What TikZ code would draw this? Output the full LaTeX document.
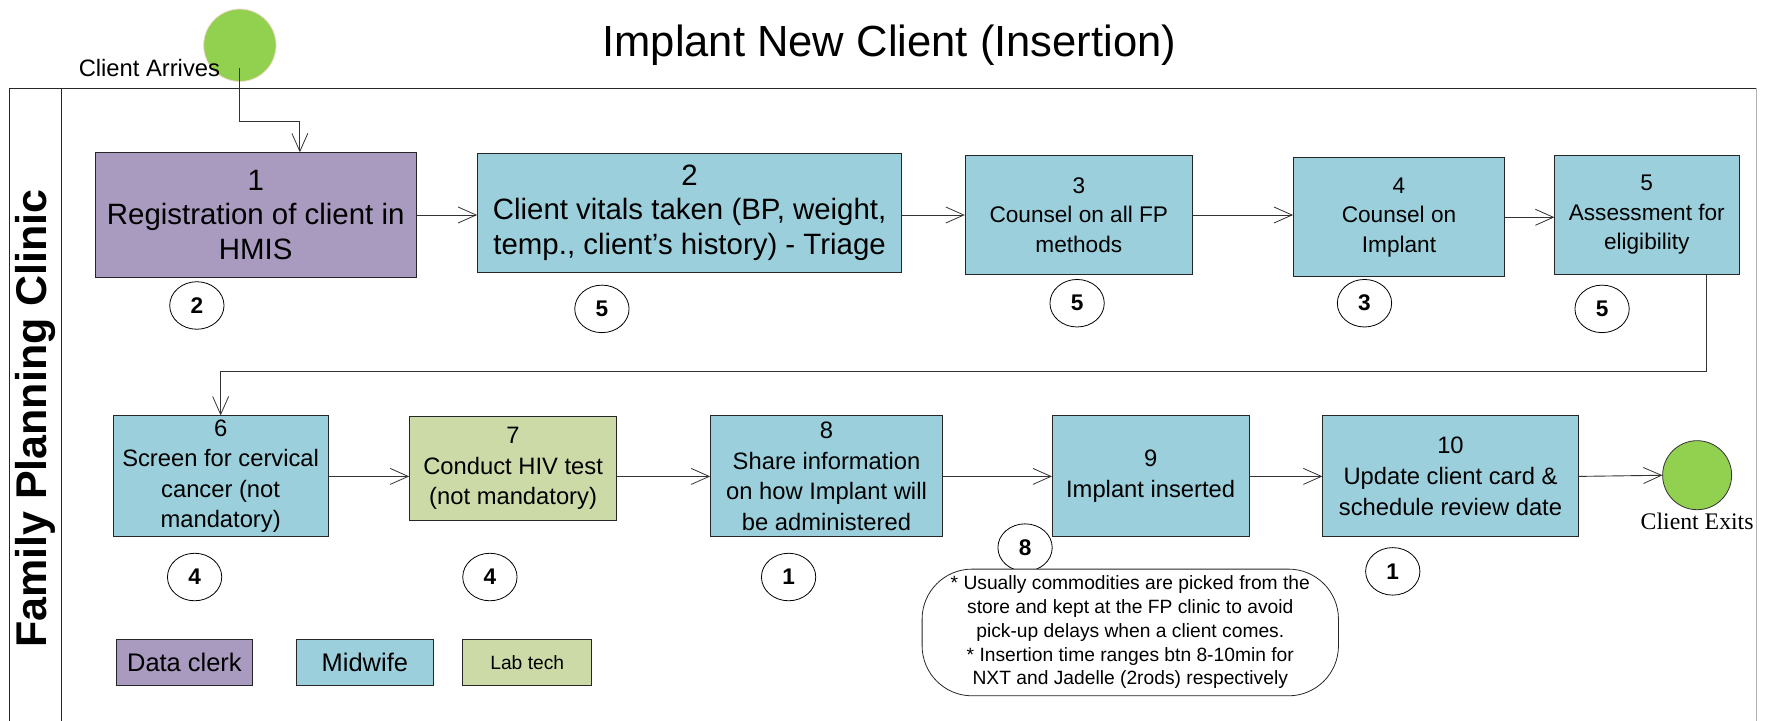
\documentclass[tikz,border=0pt]{standalone}
\usepackage{fontspec}
\setmainfont{Liberation Sans}
\newfontfamily\timesfont{Liberation Serif}
\usetikzlibrary{arrows.meta,shapes.geometric,calc}
\definecolor{clerk}{HTML}{A99AC0}
\definecolor{midwife}{HTML}{9BCFDC}
\definecolor{lab}{HTML}{CCDAA8}
\definecolor{startgreen}{HTML}{92D050}
\newcommand\fsz[2]{\fontsize{#1}{#2}\selectfont}
\begin{document}
\begin{tikzpicture}[x=1pt,y=-1pt,scale=1.1314,
  every node/.append style={transform shape},
  box/.style={draw=black!85, line width=0.8pt, align=center, inner sep=0pt},
  bigtxt/.style={font=\fsz{26}{30.5}},
  midtxt/.style={font=\fsz{20}{26}},
  rowtxt/.style={font=\fsz{21}{27}},
  arr/.style={draw=black!80, line width=0.9pt, -{Straight Barb[length=18pt,width=16pt,line width=0.8pt]}},
  timecirc/.style={ellipse, draw=black, fill=white, line width=0.8pt, minimum width=48pt, minimum height=42pt, inner sep=0pt, font=\bfseries\fsz{20}{24}},
  legend/.style={draw=black!85, line width=0.8pt, inner sep=0pt, minimum height=41pt}
]
\useasboundingbox (0,0) rectangle (1560,636.4);

% frame / lane
\draw[black!85, line width=0.9pt] (8,650) -- (8,78) -- (1552,78);
\draw[black!30, line width=0.9pt] (1552,78) -- (1552,650);
\draw[black!85, line width=0.9pt] (54,78) -- (54,650);
\node[rotate=90, font=\bfseries\fsz{38}{44}] (lane) at (31,370) {Family Planning Clinic};

% title
\node[font=\fsz{38.5}{44}] (title) at (786,40) {Implant New Client (Insertion)};

% start
\node[circle, fill=startgreen, draw=red!20!brown!25, line width=0.8pt, minimum size=64pt, inner sep=0pt] (start) at (212,40) {};
\node[anchor=east, font=\fsz{21}{24}] (arrlbl) at (198,60) {Client Arrives};

% row 1
\node[box, bigtxt, fill=clerk, minimum width=284pt, minimum height=110pt] (b1) at (226,190) {1\\Registration of client in\\HMIS};
\node[box, bigtxt, fill=midwife, minimum width=375pt, minimum height=105pt] (b2) at (609.5,188) {2\\Client vitals taken (BP, weight,\\temp., client’s history) - Triage};
\node[box, midtxt, fill=midwife, minimum width=201pt, minimum height=105pt] (b3) at (953.5,190) {3\\Counsel on all FP\\methods};
\node[box, midtxt, fill=midwife, minimum width=187pt, minimum height=105pt] (b4) at (1236.5,192) {4\\Counsel on\\Implant};
\node[box, midtxt, fill=midwife, minimum width=163pt, minimum height=105pt] (b5) at (1455.5,190) {5\\Assessment for\\eligibility};

% row 2
\node[box, rowtxt, fill=midwife, minimum width=190pt, minimum height=107pt] (b6) at (195,421) {6\\Screen for cervical\\cancer (not\\mandatory)};
\node[box, rowtxt, fill=lab, minimum width=183pt, minimum height=92pt] (b7) at (453.5,414) {7\\Conduct HIV test\\(not mandatory)};
\node[box, rowtxt, fill=midwife, minimum width=205pt, minimum height=107pt] (b8) at (730.5,421) {8\\Share information\\on how Implant will\\be administered};
\node[box, rowtxt, fill=midwife, minimum width=174pt, minimum height=107pt] (b9) at (1017,421) {9\\Implant inserted};
\node[box, rowtxt, fill=midwife, minimum width=226pt, minimum height=107pt] (b10) at (1282,421) {10\\Update client card \&\\schedule review date};

% exit
\node[circle, fill=startgreen, draw=black!80, line width=0.8pt, minimum size=61pt, inner sep=0pt] (exit) at (1500,420) {};
\node[font=\timesfont\fsz{21}{24}] (exitlbl) at (1500,461) {Client Exits};

% times
\node[timecirc] (t1) at (174,270) {2};
\node[timecirc] (t2) at (532,273) {5};
\node[timecirc] (t3) at (952,268) {5};
\node[timecirc] (t4) at (1206,268) {3};
\node[timecirc] (t5) at (1416,273) {5};
\node[timecirc] (t6) at (172,510) {4};
\node[timecirc] (t7) at (433,510) {4};
\node[timecirc] (t8) at (697,510) {1};
\node[timecirc] (t9) at (906,484) {8};
\node[timecirc] (t10) at (1231,505) {1};

% note
\node[draw=black!85, fill=white, line width=0.8pt, rounded corners=50pt, minimum width=368pt, minimum height=112pt, align=center, inner sep=0pt, font=\fsz{17}{21}] (note) at (999,559)
  {* Usually commodities are picked from the\\store and kept at the FP clinic to avoid\\pick-up delays when a client comes.\\* Insertion time ranges btn 8-10min for\\NXT and Jadelle (2rods) respectively};

% legend
\node[legend, fill=clerk, minimum width=120pt, font=\fsz{22.5}{26}] (lg1) at (163,585.5) {Data clerk};
\node[legend, fill=midwife, minimum width=121pt, font=\fsz{22.5}{26}] (lg2) at (322.5,585.5) {Midwife};
\node[legend, fill=lab, minimum width=114pt, font=\fsz{17}{20}] (lg3) at (466,585.5) {Lab tech};

% connectors
\coordinate (arrin) at (212,60);
\coordinate (k1) at (265,107);
\draw[arr] (arrin) |- (k1) -- (k1 |- b1.north);
\draw[arr] (b1.east) -- (b1.east -| b2.west);
\draw[arr] (b2.east |- b3.west) -- (b3.west);
\draw[arr] (b3.east) -- (b3.east -| b4.west);
\draw[arr] (b4.east) -- (b4.east -| b5.west);
\coordinate (k2) at (1508,328);
\draw[arr] (k2 |- b5.south) -- (k2) -| (b6.north);
\draw[arr] (b6.east) -- (b6.east -| b7.west);
\draw[arr] (b7.east |- b6.east) -- (b7.east |- b6.east -| b8.west);
\draw[arr] (b8.east) -- (b8.east -| b9.west);
\draw[arr] (b9.east) -- (b9.east -| b10.west);
\draw[arr] (b10.east) -- (exit.west);
\end{tikzpicture}
\end{document}
